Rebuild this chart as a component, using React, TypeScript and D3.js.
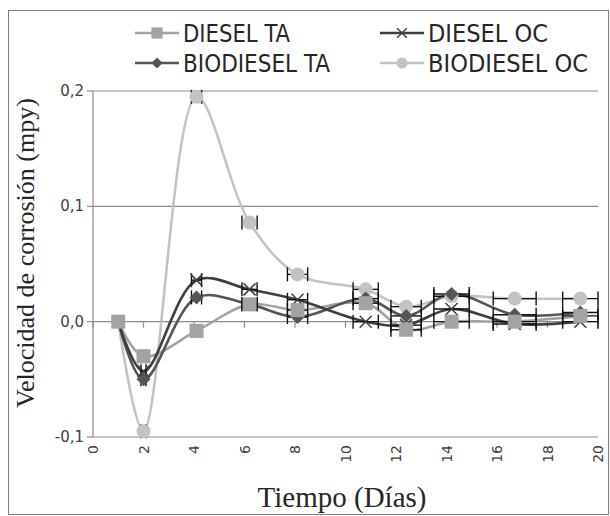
import React from 'react';
import * as d3 from 'd3';

const days = [1, 2, 4.1, 6.2, 8.1, 10.8, 12.4, 14.2, 16.7, 19.3];
const dieselTA = [0, -0.03, -0.008, 0.015, 0.01, 0.016, -0.007, 0.0, 0.0, 0.005];
const dieselOC = [0, -0.043, 0.036, 0.028, 0.019, 0.0, -0.003, 0.011, -0.002, 0.0];
const biodieselTA = [0, -0.05, 0.021, 0.015, 0.004, 0.02, 0.005, 0.024, 0.006, 0.008];
const biodieselOC = [0, -0.095, 0.195, 0.086, 0.041, 0.028, 0.013, 0.022, 0.02, 0.02];
const dayErr = [0, 0.1, 0.2, 0.3, 0.4, 0.5, 0.6, 0.7, 0.85, 0.7];
const xTicks = [0, 2, 4, 6, 8, 10, 12, 14, 16, 18, 20];
const yTicks = [-0.1, 0, 0.1, 0.2];
const yTickLabels = ['-0,1', '0,0', '0,1', '0,2'];

type Series = { name: string; values: number[]; color: string; marker: string };
const series: Series[] = [
  { name: 'DIESEL TA', values: dieselTA, color: '#a3a3a3', marker: 'square' },
  { name: 'DIESEL OC', values: dieselOC, color: '#3f3f3f', marker: 'x' },
  { name: 'BIODIESEL TA', values: biodieselTA, color: '#555555', marker: 'diamond' },
  { name: 'BIODIESEL OC', values: biodieselOC, color: '#c3c3c3', marker: 'circle' },
];
const lineOrder = [3, 0, 2, 1];
const markerOrder = [3, 2, 1, 0];

function Marker({ type, x, y, color, s = 1 }: { type: string; x: number; y: number; color: string; s?: number }) {
  if (type === 'square') return <rect x={x - 7 * s} y={y - 7 * s} width={14 * s} height={14 * s} fill={color} />;
  if (type === 'circle') return <circle cx={x} cy={y} r={7 * s} fill={color} />;
  if (type === 'diamond')
    return <path d={`M${x},${y - 7 * s}L${x + 7 * s},${y}L${x},${y + 7 * s}L${x - 7 * s},${y}Z`} fill={color} />;
  return (
    <path
      d={`M${x - 6 * s},${y - 6 * s}L${x + 6 * s},${y + 6 * s}M${x - 6 * s},${y + 6 * s}L${x + 6 * s},${y - 6 * s}`}
      stroke={color}
      strokeWidth={1.5}
    />
  );
}

export default function App() {
  const W = 610, H = 516;
  const x = d3.scaleLinear().domain([0, 20]).range([93, 598]);
  const y = d3.scaleLinear().domain([-0.1, 0.2]).range([437, 91]);
  const line = d3
    .line<number>()
    .x((_, i) => x(days[i]))
    .y((d) => y(d))
    .curve(d3.curveCatmullRom.alpha(0.5));
  const axisFont = '"DejaVu Sans", Verdana, sans-serif';
  const legendFont = '"Liberation Sans Narrow", "DejaVu Sans Condensed", sans-serif';
  const serif = '"Liberation Serif", "Times New Roman", serif';
  const legendItems = [
    { s: series[0], lx: 135, ly: 33, w: 107 },
    { s: series[1], lx: 380, ly: 33, w: 120 },
    { s: series[2], lx: 135, ly: 63, w: 147 },
    { s: series[3], lx: 380, ly: 63, w: 160 },
  ];
  return (
    <svg width={W} height={H} style={{ position: 'absolute', left: 0, top: 0, background: '#fff' }}>
      <rect x={8.5} y={10.5} width={600} height={504} fill="#fff" stroke="#7f7f7f" strokeWidth={1} />
      {yTicks.map((t) => (
        <line key={t} x1={x(0)} x2={x(20)} y1={y(t)} y2={y(t)} stroke="#8c8c8c" strokeWidth={1.2} />
      ))}
      <line x1={x(0)} x2={x(0)} y1={y(0.2)} y2={y(-0.1)} stroke="#8c8c8c" strokeWidth={1.2} />
      {yTicks.map((t, i) => (
        <g key={t}>
          <line x1={x(0) - 6} x2={x(0)} y1={y(t)} y2={y(t)} stroke="#8c8c8c" strokeWidth={1.2} />
          <text x={x(0) - 9} y={y(t) + 5} textAnchor="end" fontFamily={axisFont} fontSize={15} fill="#404040">
            {yTickLabels[i]}
          </text>
        </g>
      ))}
      {xTicks.map((t) => (
        <line key={t} x1={x(t)} x2={x(t)} y1={y(0)} y2={y(0) + 6} stroke="#8c8c8c" strokeWidth={1.2} />
      ))}
      {xTicks.map((t) => (
        <text
          key={t}
          transform={`translate(${x(t) + 5},${445}) rotate(-90)`}
          textAnchor="end"
          fontFamily={axisFont}
          fontSize={14}
          fill="#404040"
        >
          {t}
        </text>
      ))}
      {lineOrder.map((si) => {
        const s = series[si];
        return <path key={s.name} d={line(s.values) || ''} fill="none" stroke={s.color} strokeWidth={2.6} />;
      })}
      {lineOrder.map((si) => {
        const s = series[si];
        return (
          <g key={s.name + 'e'} stroke="#111" strokeWidth={1.4}>
            {s.values.map((v, i) =>
              dayErr[i] > 0 ? (
                <g key={i}>
                  <line x1={x(days[i] - dayErr[i])} x2={x(days[i] + dayErr[i])} y1={y(v)} y2={y(v)} />
                  <line x1={x(days[i] - dayErr[i])} x2={x(days[i] - dayErr[i])} y1={y(v) - 7} y2={y(v) + 7} />
                  <line x1={x(days[i] + dayErr[i])} x2={x(days[i] + dayErr[i])} y1={y(v) - 7} y2={y(v) + 7} />
                </g>
              ) : null
            )}
          </g>
        );
      })}
      {markerOrder.map((si) => {
        const s = series[si];
        return (
          <g key={s.name + 'm'}>
            {s.values.map((v, i) => (
              <Marker key={i} type={s.marker} x={x(days[i])} y={y(v)} color={s.color} />
            ))}
          </g>
        );
      })}
      {legendItems.map(({ s, lx, ly, w }) => (
        <g key={s.name + 'l'}>
          <line x1={lx} x2={lx + 44} y1={ly} y2={ly} stroke={s.color} strokeWidth={2.6} />
          <Marker type={s.marker} x={lx + 22} y={ly} color={s.color} s={0.8} />
          <text
            x={lx + 48}
            y={ly + 9}
            fontFamily={legendFont}
            fontSize={24}
            fill="#262626"
            textLength={w}
            lengthAdjust="spacingAndGlyphs"
          >
            {s.name}
          </text>
        </g>
      ))}
      <text transform={`translate(34,253) rotate(-90)`} textAnchor="middle" fontFamily={serif} fontSize={26} fill="#262626">
        Velocidad de corrosión (mpy)
      </text>
      <text x={342} y={507} textAnchor="middle" fontFamily={serif} fontSize={29} fill="#262626">
        Tiempo (Días)
      </text>
    </svg>
  );
}
